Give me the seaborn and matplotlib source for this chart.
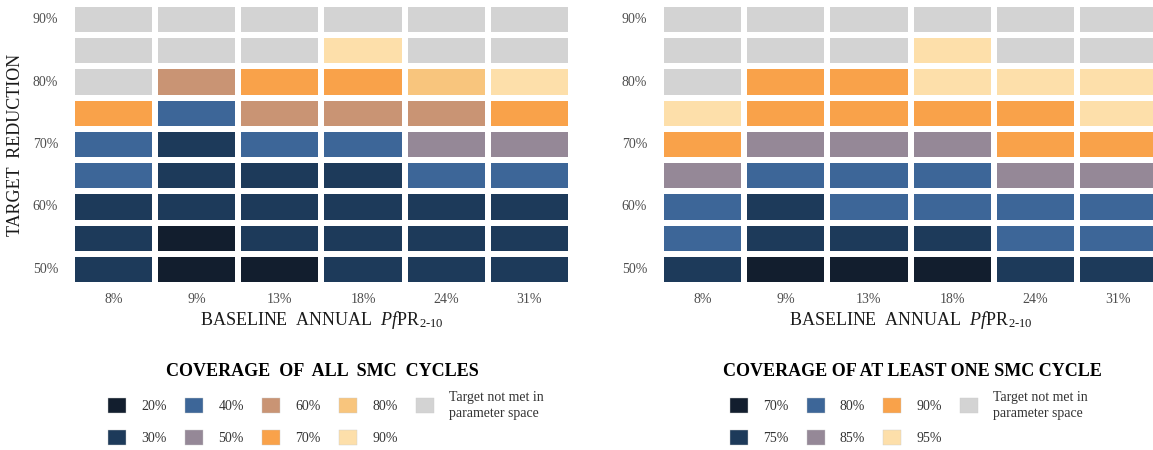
import numpy as np
import pandas as pd
import seaborn as sns
import matplotlib
matplotlib.use('Agg')
import matplotlib.pyplot as plt
from matplotlib.colors import ListedColormap
from matplotlib.patches import Patch

# Axis categories
prevalence = ['8%', '9%', '13%', '18%', '24%', '31%']
targets = ['90%', '85%', '80%', '75%', '70%', '65%', '60%', '55%', '50%']  # top to bottom

# Coverage needed (None = target not met in parameter space), rows top (90%) to bottom (50%)
all_cycles = [
    [None, None, None, None, None, None],
    [None, None, None, 90, None, None],
    [None, 60, 70, 70, 80, 90],
    [70, 40, 60, 60, 60, 70],
    [40, 30, 40, 40, 50, 50],
    [40, 30, 30, 30, 40, 40],
    [30, 30, 30, 30, 30, 30],
    [30, 20, 30, 30, 30, 30],
    [30, 20, 20, 30, 30, 30],
]
one_cycle = [
    [None, None, None, None, None, None],
    [None, None, None, 95, None, None],
    [None, 90, 90, 95, 95, 95],
    [95, 90, 90, 90, 90, 95],
    [90, 85, 85, 85, 90, 90],
    [85, 80, 80, 80, 85, 85],
    [80, 75, 80, 80, 80, 80],
    [80, 75, 75, 75, 80, 80],
    [75, 70, 70, 70, 75, 75],
]

all_levels = [20, 30, 40, 50, 60, 70, 80, 90]
all_colors = ['#121e2e', '#1d3a5a', '#3d6698', '#958897', '#c99474', '#f9a24a', '#f8c57d', '#fddfaa']
one_levels = [70, 75, 80, 85, 90, 95]
one_colors = ['#121e2e', '#1d3a5a', '#3d6698', '#958897', '#f9a24a', '#fddfaa']
na_color = '#d3d3d3'
na_label = 'Target not met in\nparameter space'

sns.set_style('white')
plt.rcParams['font.family'] = ['Liberation Serif', 'DejaVu Serif']
plt.rcParams['mathtext.fontset'] = 'custom'
plt.rcParams['mathtext.rm'] = 'Liberation Serif'
plt.rcParams['mathtext.it'] = 'Liberation Serif:italic'

fig = plt.figure(figsize=(11.53, 4.5), dpi=100)
ax1 = fig.add_axes([0.0624, 0.3667, 0.4328, 0.6244])
ax2 = fig.add_axes([0.5733, 0.3667, 0.4328, 0.6244])

ylabels = [t if i % 2 == 0 else '' for i, t in enumerate(targets)]


def draw(ax, grid, levels, colors, title, tx, lx, ncol):
    # code 0 = not met, 1.. = coverage level
    codes = pd.DataFrame(
        [[0 if v is None else levels.index(v) + 1 for v in row] for row in grid],
        index=targets, columns=prevalence)
    cmap = ListedColormap([na_color] + colors)
    sns.heatmap(codes, ax=ax, cmap=cmap, vmin=-0.5, vmax=len(levels) + 0.5,
                cbar=False, linewidths=4.3, linecolor='white',
                xticklabels=prevalence, yticklabels=ylabels)
    ax.tick_params(length=0, labelsize=10, labelcolor='#4d4d4d')
    ax.tick_params(axis='y', pad=10, rotation=0)
    ax.tick_params(axis='x', pad=6)
    ax.set_xlabel(r'BASELINE  ANNUAL  $\mathit{Pf}$PR$_{2\text{-}10}$',
                  fontsize=13, color='#1a1a1a', labelpad=2)
    handles = [Patch(facecolor=c, edgecolor='#cccccc', linewidth=0.3) for c in colors]
    labels = [f'{v}%' for v in levels]
    handles.append(Patch(facecolor=na_color, edgecolor='#cccccc', linewidth=0.3))
    labels.append(na_label)
    fig.text(tx, 1 - 372 / 450, title, ha='center', va='center',
             fontsize=13, fontweight='bold', color='black')
    fig.legend(handles, labels, loc='upper center', bbox_to_anchor=(lx, 1 - 379 / 450),
               ncol=ncol, frameon=False, fontsize=10, labelcolor='#333333',
               handlelength=1.3, handleheight=1.3, handletextpad=1.1,
               columnspacing=1.3, labelspacing=1.2)


draw(ax1, all_cycles, all_levels, all_colors, 'COVERAGE  OF  ALL  SMC  CYCLES',
     322 / 1153, 326 / 1153, 5)
draw(ax2, one_cycle, one_levels, one_colors, 'COVERAGE OF AT LEAST ONE SMC CYCLE',
     912 / 1153, 909 / 1153, 4)
ax1.set_ylabel('TARGET  REDUCTION', fontsize=13, color='#1a1a1a')
ax1.yaxis.set_label_coords(-0.096, 0.5)

fig.savefig('out.png', dpi=100)
plt.close()
